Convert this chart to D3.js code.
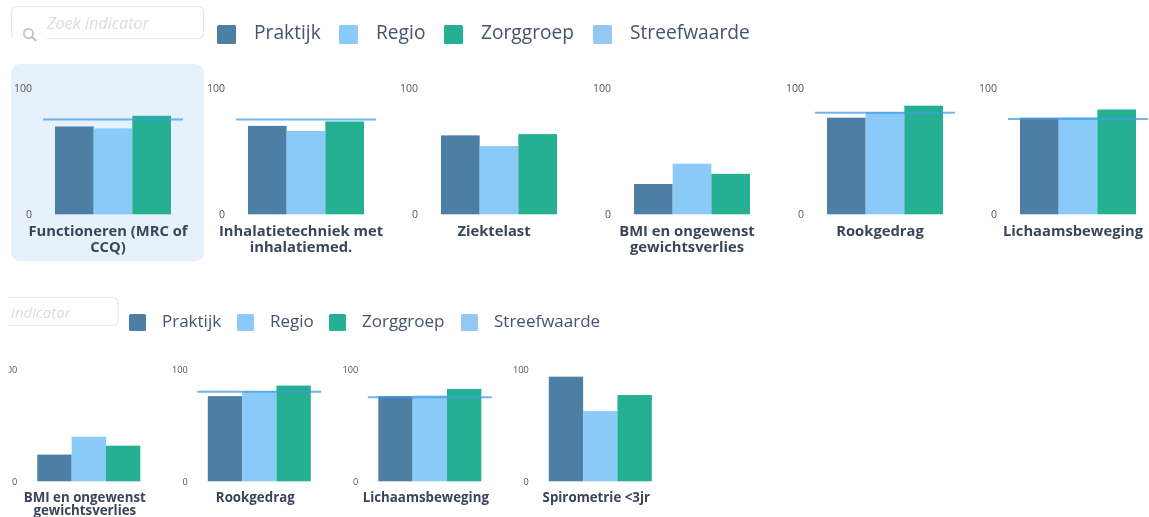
<!DOCTYPE html>
<html><head><meta charset="utf-8">
<script src="https://cdn.jsdelivr.net/npm/d3@7/dist/d3.min.js"></script>
<style>
html,body{margin:0;padding:0;background:#fff;overflow:hidden}
svg{display:block;font-family:"Open Sans",sans-serif;filter:blur(0.45px)}
</style></head><body>
<div id="chart"></div>
<script>
const seriesNames = ["Praktijk","Regio","Zorggroep"];
const legendLabels = ["Praktijk","Regio","Zorggroep","Streefwaarde"];
const axisTicks = [0,100];
const placeholder = "Zoek indicator";

const indicatorNames = ["Functioneren","Inhalatie","Ziektelast","BMI","Rookgedrag","Lichaamsbeweging","Spirometrie"];
const indicatorTitles = [
  ["Functioneren (MRC of","CCQ)"],
  ["Inhalatietechniek met","inhalatiemed."],
  ["Ziektelast"],
  ["BMI en ongewenst","gewichtsverlies"],
  ["Rookgedrag"],
  ["Lichaamsbeweging"],
  ["Spirometrie <3jr"]
];
const praktijk  = [69.5,70,62.5,24,76.5,76.5,94];
const regio     = [68,66,54,40,81,77,63];
const zorggroep = [78,73.5,63.5,32,86,83,77.5];
const streefwaarde = [75,75,null,null,80.5,75.5,null];

const topRowIndicators = [0,1,2,3,4,5];
const bottomRowIndicators = [3,4,5,6];

const colors = {Praktijk:"#4d7ea3",Regio:"#89caf9",Zorggroep:"#25b094",Streefwaarde:"#94c8f2"};

const rows = [
  {ids:topRowIndicators, x0:55, pitch:193, barW:116, top:88, base:214.3, axisGap:23, over:12,
   tick:10.5, title:14.75, titleY:231, titleLH:16, titleDx:-5,
   box:{x:11.5,y:6.5,w:192,h:32}, ph:{x:47,y:28.5,size:16.2},
   leg:{sw:[217,339,444,593], tx:[254,376,481,630], y:25, s:19, size:19.2, ty:32}},
  {ids:bottomRowIndicators, x0:37.3, pitch:170.5, barW:103, top:370, base:481.3, axisGap:20, over:10.5,
   tick:9.2, title:13.3, titleY:497, titleLH:13.5, titleDx:-4,
   box:{x:-70,y:297.5,w:188,h:28}, ph:{x:-24,y:317.5,size:15},
   leg:{sw:[129,237,329,461], tx:[162,270,362,494], y:314, s:17, size:17, ty:321}}
];

const W=1149,H=517;
const svg=d3.select("#chart").append("svg").attr("width",W).attr("height",H);
svg.append("defs").append("clipPath").attr("id","clipB").append("rect")
  .attr("x",9).attr("y",285).attr("width",W).attr("height",H-285);

// highlighted tile
svg.append("rect").attr("x",11).attr("y",64).attr("width",193).attr("height",197.5).attr("rx",9).attr("fill","#e6f1fb");

rows.forEach((r,ri)=>{
  const g=svg.append("g").attr("clip-path",ri?"url(#clipB)":null);
  // search box
  g.append("rect").attr("x",r.box.x).attr("y",r.box.y).attr("width",r.box.w).attr("height",r.box.h)
    .attr("rx",5).attr("fill","#fff").attr("stroke","#e8e8ea").attr("stroke-width",1.2);
  g.append("text").attr("x",r.ph.x).attr("y",r.ph.y).attr("font-size",r.ph.size).attr("font-style","italic")
    .attr("fill","#dcdcdc").text(placeholder);
  if(ri===0){
    g.append("rect").attr("x",10).attr("y",37).attr("width",37).attr("height",7).attr("fill","#fff");
    g.append("circle").attr("cx",28.5).attr("cy",33.5).attr("r",4.6).attr("fill","none").attr("stroke","#c4c4c4").attr("stroke-width",1.8);
    g.append("line").attr("x1",32).attr("y1",37).attr("x2",36.5).attr("y2",41).attr("stroke","#c4c4c4").attr("stroke-width",2.2);
  }
  // legend
  legendLabels.forEach((name,i)=>{
    g.append("rect").attr("x",r.leg.sw[i]).attr("y",r.leg.y).attr("width",r.leg.s).attr("height",r.leg.s)
      .attr("rx",1.5).attr("fill",colors[name]);
    g.append("text").attr("x",r.leg.tx[i]).attr("y",r.leg.ty).attr("dy","0.35em")
      .attr("font-size",r.leg.size).attr("fill","#44546a").text(name);
  });
  // panels
  const y=d3.scaleLinear().domain([0,100]).range([r.base,r.top]);
  r.ids.forEach((id,pi)=>{
    const px=r.x0+pi*r.pitch;
    const x=d3.scaleBand().domain(seriesNames).range([px,px+r.barW]);
    const vals=[praktijk[id],regio[id],zorggroep[id]];
    const p=g.append("g").attr("class","panel").attr("data-name",indicatorNames[id]);
    p.selectAll("rect.bar").data(seriesNames).join("rect").attr("class","bar")
      .attr("x",d=>x(d)).attr("width",x.bandwidth())
      .attr("y",(d,i)=>y(vals[i])).attr("height",(d,i)=>y(0)-y(vals[i]))
      .attr("fill",d=>colors[d]);
    const ax=p.append("g").attr("transform",`translate(${px-r.axisGap},0)`)
      .call(d3.axisLeft(y).tickValues(axisTicks).tickSize(0).tickPadding(0));
    ax.select(".domain").remove();
    ax.selectAll("text").attr("font-size",r.tick).attr("font-family","'Open Sans',sans-serif").attr("fill","#555");
    if(streefwaarde[id]!=null){
      p.append("line").attr("x1",px-r.over).attr("x2",px+r.barW+r.over)
        .attr("y1",y(streefwaarde[id])).attr("y2",y(streefwaarde[id]))
        .attr("stroke","#3f9de6").attr("stroke-opacity",.75).attr("stroke-width",2);
    }
    const t=p.append("text").attr("text-anchor","middle").attr("font-size",r.title)
      .attr("font-weight",700).attr("fill","#3a4559");
    indicatorTitles[id].forEach((line,li)=>{
      t.append("tspan").attr("x",px+r.barW/2+r.titleDx).attr("y",r.titleY+li*r.titleLH).attr("dy","0.35em").text(line);
    });
  });
});
</script>
</body></html>
